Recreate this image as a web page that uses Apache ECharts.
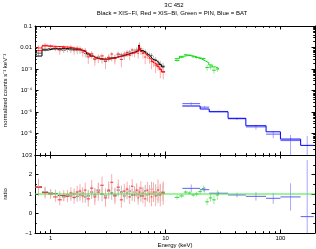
<!DOCTYPE html>
<html><head><meta charset="utf-8">
<script src="https://cdn.jsdelivr.net/npm/echarts@6/dist/echarts.min.js"></script>
<style>html,body{margin:0;padding:0;background:#fff}#c{width:316px;height:249px}</style>
</head><body><div id="c"></div>
<script>
// ---- Data (energies in keV) ----
const fiEdges=[0.73,0.84,0.95,1.05,1.15,1.25,1.35,1.45,1.55,1.65,1.75,1.85,1.95,2.05,2.2,2.35,2.5,2.7,2.9,3.1,3.3,3.5,3.75,4.0,4.25,4.5,4.75,5.0,5.25,5.5,5.7,5.85,6.0,6.2,6.5,6.8,7.1,7.4,7.7,8.0,8.4,8.8,9.2,9.8];
const fiModel=[4.0e-3,7.6e-3,8.5e-3,8.7e-3,8.8e-3,8.8e-3,8.7e-3,8.6e-3,8.4e-3,8.2e-3,7.8e-3,7.0e-3,6.2e-3,5.0e-3,4.0e-3,3.3e-3,3.0e-3,2.9e-3,2.9e-3,3.0e-3,3.2e-3,3.5e-3,3.8e-3,4.1e-3,4.5e-3,4.9e-3,5.3e-3,5.8e-3,6.3e-3,6.8e-3,7.3e-3,1.3e-2,7.6e-3,6.8e-3,5.6e-3,4.8e-3,4.0e-3,3.4e-3,2.9e-3,2.4e-3,2.0e-3,1.6e-3,1.25e-3];
const fiRatio=[1.37,1.10,1.05,1.02,0.92,0.85,0.95,0.90,1.00,0.88,0.95,1.05,0.85,0.90,1.10,0.95,1.20,1.00,0.90,1.15,1.05,0.95,1.20,1.10,0.90,1.05,1.15,0.95,1.10,1.20,0.95,1.10,0.90,1.05,1.15,0.95,1.10,1.25,1.00,1.10,0.95,1.05,1.10];
const fiErr=[0.40,0.25,0.20,0.20,0.22,0.22,0.25,0.25,0.28,0.28,0.30,0.30,0.30,0.32,0.35,0.35,0.38,0.38,0.38,0.36,0.35,0.35,0.33,0.33,0.32,0.32,0.30,0.30,0.30,0.28,0.30,0.22,0.30,0.32,0.32,0.34,0.36,0.38,0.40,0.40,0.42,0.44,0.46];

const biEdges=[0.73,0.84,0.95,1.05,1.15,1.25,1.35,1.45,1.55,1.65,1.75,1.85,1.95,2.05,2.2,2.35,2.5,2.7,2.9,3.1,3.3,3.5,3.75,4.0,4.25,4.5,4.75,5.0,5.25,5.5,5.7,5.85,6.0,6.2,6.5,6.8,7.1,7.4,7.7,8.0,8.4,8.8,9.2,9.9];
const biModel=[7.1e-3,1.18e-2,1.15e-2,1.12e-2,1.1e-2,1.07e-2,1.03e-2,9.8e-3,9.2e-3,8.5e-3,7.7e-3,6.8e-3,6.0e-3,4.9e-3,3.9e-3,3.3e-3,2.9e-3,2.8e-3,2.8e-3,2.9e-3,3.1e-3,3.4e-3,3.7e-3,4.0e-3,4.3e-3,4.7e-3,5.1e-3,5.5e-3,5.9e-3,6.3e-3,6.7e-3,1.15e-2,6.8e-3,5.9e-3,4.8e-3,3.9e-3,3.2e-3,2.6e-3,2.1e-3,1.7e-3,1.3e-3,1.0e-3,7.2e-4];
const biRatio=[1.34,1.07,1.00,0.85,0.70,0.92,0.88,1.05,0.82,1.10,1.15,0.90,1.20,0.75,1.30,0.85,1.10,1.45,0.80,1.20,1.60,0.90,1.35,0.70,1.15,1.25,0.85,1.40,0.95,1.20,0.80,1.10,1.30,0.90,0.75,1.20,1.00,0.85,1.10,0.90,1.20,0.95,1.05];
const biErr=[0.45,0.30,0.25,0.25,0.28,0.28,0.30,0.30,0.32,0.32,0.35,0.35,0.38,0.40,0.42,0.42,0.45,0.45,0.45,0.45,0.42,0.42,0.40,0.40,0.38,0.38,0.36,0.36,0.35,0.35,0.35,0.28,0.36,0.38,0.40,0.42,0.45,0.48,0.50,0.52,0.55,0.58,0.60];

const pinEdges=[12.0,13.2,14.4,15.6,16.8,18.0,19.3,20.7,22.2,23.8,25.5,27.3,29.2];
const pinModel=[3.0e-3,3.9e-3,4.2e-3,4.2e-3,3.9e-3,3.4e-3,2.9e-3,2.4e-3,1.95e-3,1.55e-3,1.25e-3,1.05e-3];
const pinRatio=[0.83,0.90,1.10,1.05,0.95,1.00,1.12,1.28,0.60,0.80,0.70,0.95];
const pinErr=[0.12,0.10,0.10,0.10,0.10,0.12,0.14,0.16,0.18,0.20,0.22,0.25];

const batEdges=[14,20,24,35,50,75,100,150,195];
const batModel=[1.9e-5,1.38e-5,1.02e-5,5.1e-6,2.3e-6,1.2e-6,5.5e-7,2.8e-7];
const batRatio=[1.29,1.22,1.04,0.95,0.88,0.78,0.85,-0.16];
const batErr=[0.20,0.15,0.08,0.12,0.22,0.28,0.70,2.90];

const xTickLabels=[1,10,100];
const titleText='3C 452';
const subtitleText='Black = XIS\u2212FI, Red = XIS\u2212BI, Green = PIN, Blue = BAT';

// ---- helpers ----
const X_MIN=0.73, X_MAX=200, Y_MIN=1e-7, Y_MAX=0.1;
function stepData(edges, model){return edges.map((e,i)=>[e, model[Math.min(i, model.length-1)]]);}
function specData(edges, model, ratio, err){
  return model.map((m,i)=>{
    const r=ratio[i], e=err[i];
    const lo=(r-e)>0? m*(r-e) : Y_MIN/10;
    const hi=m*(r+e);
    const c=r>0? m*r : lo;
    return [edges[i], edges[i+1], c, lo, hi, r>0?1:0];
  });
}
function ratioData(edges, ratio, err){
  return ratio.map((r,i)=>[edges[i], edges[i+1], r, r-err[i], r+err[i], 1]);
}
function crossRender(hc, vc){
  return function(params, api){
    const xlo=api.value(0), xhi=api.value(1), y=api.value(2), ylo=api.value(3), yhi=api.value(4), hasC=api.value(5);
    const xm=Math.sqrt(xlo*xhi);
    const a=api.coord([xm,ylo]), b=api.coord([xm,yhi]);
    const ch=[{type:'line',shape:{x1:a[0],y1:a[1],x2:b[0],y2:b[1]},style:{stroke:vc,lineWidth:1}}];
    if(hasC){
      const l=api.coord([xlo,y]), r=api.coord([xhi,y]);
      ch.push({type:'line',shape:{x1:l[0],y1:l[1],x2:r[0],y2:r[1]},style:{stroke:hc,lineWidth:1}});
    }
    return {type:'group',children:ch};
  };
}
// minor ticks
const xMinor=[];[0.1,1,10,100].forEach(d=>{for(let k=2;k<=9;k++){const v=k*d; if(v>X_MIN&&v<X_MAX) xMinor.push(v);} });
const yMinor=[];[1e-7,1e-6,1e-5,1e-4,1e-3,1e-2].forEach(d=>{for(let k=2;k<=9;k++) yMinor.push(k*d);});
function xTickRender(yRef){
  return function(params, api){
    const cs=params.coordSys; const p=api.coord([api.value(0), yRef]);
    const x=Math.round(p[0])+0.5, b=cs.y+cs.height, t=cs.y;
    return {type:'group',children:[
      {type:'line',shape:{x1:x,y1:b,x2:x,y2:b-1.8},style:{stroke:'#000',lineWidth:1}},
      {type:'line',shape:{x1:x,y1:t,x2:x,y2:t+1.8},style:{stroke:'#000',lineWidth:1}}]};
  };
}
function yTickRender(params, api){
  const cs=params.coordSys; const p=api.coord([1, api.value(1)]);
  const y=Math.round(p[1])+0.5, l=cs.x, r=cs.x+cs.width;
  return {type:'group',children:[
    {type:'line',shape:{x1:l,y1:y,x2:l+1.8,y2:y},style:{stroke:'#000',lineWidth:1}},
    {type:'line',shape:{x1:r,y1:y,x2:r-1.8,y2:y},style:{stroke:'#000',lineWidth:1}}]};
}
const SUP={'-':'\u207B','0':'\u2070','1':'\u00B9','2':'\u00B2','3':'\u00B3','4':'\u2074','5':'\u2075','6':'\u2076','7':'\u2077'};
function yLogLabel(v){
  const e=Math.round(Math.log10(v));
  if(e===-1) return '0.1';
  if(e===-2) return '0.01';
  if(e===-7) return '{p|10}';
  return '10'+String(e).split('').map(c=>SUP[c]).join('');
}
const FONT='Liberation Sans';
const lblStyle={fontSize:6, color:'#000', fontFamily:FONT};
const axLine={show:true, onZero:false, lineStyle:{color:'#000',width:1}};
function xAx(grid, pos, labels, name){
  return {type:'log', gridIndex:grid, position:pos, min:X_MIN, max:X_MAX, logBase:10,
    axisLine:axLine, axisTick:{show:true, inside:true, length:3.5, lineStyle:{color:'#000'}},
    splitLine:{show:false},
    axisLabel:{show:labels, ...lblStyle, margin:2, showMinLabel:false, showMaxLabel:false,
      formatter:v=>{const r=Math.round(v); return xTickLabels.includes(r)&&Math.abs(v-r)<1e-6? String(r):'';}},
    name:name||'', nameLocation:'middle', nameGap:9, nameTextStyle:{fontSize:6, fontFamily:FONT, color:'#000'}};
}
function yLogAx(pos, labels){
  return {type:'log', gridIndex:0, position:pos, min:Y_MIN, max:Y_MAX, logBase:10, interval:1,
    axisLine:axLine, axisTick:{show:true, inside:true, length:3.5, lineStyle:{color:'#000'}},
    splitLine:{show:false},
    axisLabel:{show:labels, ...lblStyle, margin:3, showMinLabel:true, showMaxLabel:true, formatter:yLogLabel,
      rich:{p:{fontSize:6, fontFamily:FONT, color:'#000', padding:[0,3.5,0,0]}}},
    name:labels?'normalized counts s\u207B\u00B9 keV\u207B\u00B9':'', nameLocation:'middle', nameGap:27,
    nameTextStyle:{fontSize:6, fontFamily:FONT, color:'#000'}};
}
function yRatAx(pos, labels){
  return {type:'value', gridIndex:1, position:pos, min:-1, max:3, interval:1,
    axisLine:axLine, axisTick:{show:true, inside:true, length:3.5, lineStyle:{color:'#000'}},
    minorTick:{show:true, splitNumber:2, length:1.8, lineStyle:{color:'#000'}},
    splitLine:{show:false},
    axisLabel:{show:labels, ...lblStyle, margin:3, showMinLabel:true, showMaxLabel:true,
      formatter:v=> v<0? '\u2212'+Math.abs(v) : String(v)},
    name:labels?'ratio':'', nameLocation:'middle', nameGap:27,
    nameTextStyle:{fontSize:6, fontFamily:FONT, color:'#000'}};
}

const C={fiH:'#555555', fiV:'#bdbdbd', fiM:'#000000',
         biH:'#ee3030', biV:'#ffaaaa', biM:'#ff0000',
         pinH:'#30d030', pinV:'#99f099', pinM:'#00e000',
         batH:'#6060f0', batV:'#a8a8ff', batM:'#0000ff', one:'#40e840'};

function crossSeries(data, hc, vc, xi, yi, z){
  return {type:'custom', xAxisIndex:xi, yAxisIndex:yi, data:data, encode:{x:[0,1], y:[2,3,4]},
    renderItem:crossRender(hc, vc), clip:true, silent:true, z:z};
}
function modelSeries(edges, model, color){
  return {type:'line', xAxisIndex:0, yAxisIndex:0, data:stepData(edges, model), step:'end',
    symbol:'none', lineStyle:{color:color, width:1}, silent:true, z:5};
}

const option={
  animation:false,
  backgroundColor:'#fff',
  title:[
    {text:titleText, left:174, top:2, padding:0, textAlign:'center', textStyle:{fontSize:6, fontWeight:'normal', fontFamily:FONT, color:'#000'}},
    {text:subtitleText, left:172, top:10, padding:0, textAlign:'center', textStyle:{fontSize:6, fontWeight:'normal', fontFamily:FONT, color:'#000'}}
  ],
  grid:[
    {left:35, top:26, width:280, height:129, containLabel:false, outerBoundsMode:'none'},
    {left:35, top:155, width:280, height:78, containLabel:false, outerBoundsMode:'none'}
  ],
  xAxis:[xAx(0,'bottom',false), xAx(0,'top',false), xAx(1,'bottom',true,'Energy (keV)'), xAx(1,'top',false)],
  yAxis:[yLogAx('left',true), yLogAx('right',false), yRatAx('left',true), yRatAx('right',false)],
  series:[
    crossSeries(specData(fiEdges,fiModel,fiRatio,fiErr), C.fiH, C.fiV, 0, 0, 2),
    crossSeries(specData(biEdges,biModel,biRatio,biErr), C.biH, C.biV, 0, 0, 3),
    crossSeries(specData(pinEdges,pinModel,pinRatio,pinErr), C.pinH, C.pinV, 0, 0, 2),
    crossSeries(specData(batEdges,batModel,batRatio,batErr), C.batH, C.batV, 0, 0, 2),
    modelSeries(fiEdges, fiModel, C.fiM),
    modelSeries(biEdges, biModel, C.biM),
    modelSeries(pinEdges, pinModel, C.pinM),
    modelSeries(batEdges, batModel, C.batM),
    crossSeries(ratioData(fiEdges,fiRatio,fiErr), C.fiH, C.fiV, 2, 2, 2),
    crossSeries(ratioData(biEdges,biRatio,biErr), C.biH, C.biV, 2, 2, 3),
    crossSeries(ratioData(pinEdges,pinRatio,pinErr), C.pinH, C.pinV, 2, 2, 2),
    crossSeries(ratioData(batEdges,batRatio,batErr), C.batH, C.batV, 2, 2, 2),
    {type:'line', xAxisIndex:2, yAxisIndex:2, data:[[X_MIN,1],[X_MAX,1]], symbol:'none',
      lineStyle:{color:C.one, width:1}, silent:true, z:6},
    {type:'custom', xAxisIndex:0, yAxisIndex:0, data:xMinor.map(v=>[v,1e-3]), renderItem:xTickRender(1e-3), clip:false, silent:true, z:10},
    {type:'custom', xAxisIndex:2, yAxisIndex:2, data:xMinor.map(v=>[v,1]), renderItem:xTickRender(1), clip:false, silent:true, z:10},
    {type:'custom', xAxisIndex:0, yAxisIndex:0, data:yMinor.map(v=>[1,v]), renderItem:yTickRender, clip:false, silent:true, z:10}
  ]
};
const chart=echarts.init(document.getElementById('c'), null, {renderer:'canvas', width:316, height:249});
chart.setOption(option);
</script>
</body></html>
